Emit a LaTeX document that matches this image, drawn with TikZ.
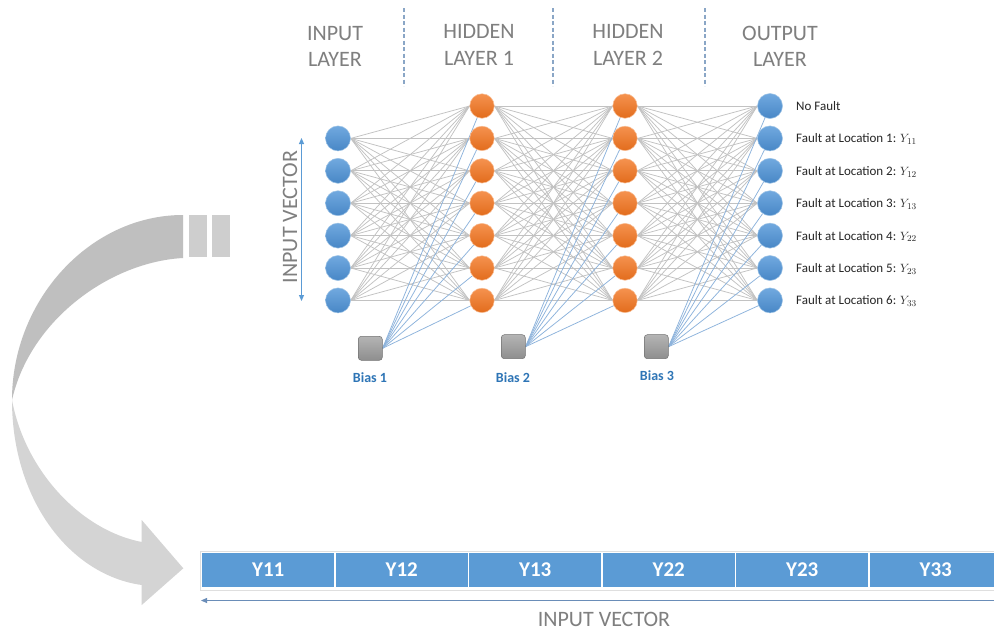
\documentclass[tikz,border=0pt]{standalone}
\usepackage{fontspec}
\setmainfont{Carlito}
\usetikzlibrary{arrows.meta,backgrounds}

\definecolor{nodeblue}{HTML}{5B9BD5}
\definecolor{nodebluetop}{HTML}{71A9DF}
\definecolor{nodebluebot}{HTML}{4887C6}
\definecolor{nodeorangetop}{HTML}{F5924F}
\definecolor{nodeorangebot}{HTML}{E26C1C}
\definecolor{biastop}{HTML}{B4B4B4}
\definecolor{biasbot}{HTML}{8E8E8E}
\definecolor{labelgray}{HTML}{7F7F7F}
\definecolor{biasblue}{HTML}{2E75B6}
\definecolor{wiregray}{HTML}{C2C2C2}
\definecolor{wireblue}{HTML}{8DB3DC}
\definecolor{sepblue}{HTML}{8AA6C6}
\definecolor{arrowdark}{HTML}{BFBFBF}
\definecolor{arrowlight}{HTML}{D4D4D4}
\definecolor{vecline}{HTML}{6A8DB8}

\tikzset{
  neuronin/.style={circle, minimum size=25pt, inner sep=0pt, top color=nodebluetop, bottom color=nodebluebot, draw=nodeblue!60!white, line width=0.5pt},
  neuronhid/.style={circle, minimum size=24.5pt, inner sep=0pt, top color=nodeorangetop, bottom color=nodeorangebot, draw=nodeorangetop!60!white, line width=0.5pt},
  biasbox/.style={rectangle, rounded corners=3pt, minimum size=24pt, inner sep=0pt, top color=biastop, bottom color=biasbot, draw=biasbot!80!black, line width=0.5pt},
  biaslabel/.style={text=biasblue, font=\fontsize{14}{16}\selectfont\bfseries, inner sep=0pt},
  header/.style={text=labelgray, font=\fontsize{22}{26.5}\selectfont, align=center, inner sep=0pt, anchor=north},
  outlabel/.style={text=black!85, font=\fontsize{13}{15}\selectfont, inner sep=0pt, anchor=base west},
  gwire/.style={draw=wiregray, line width=0.75pt},
  bwire/.style={draw=wireblue, line width=0.75pt},
  layersep/.style={draw=sepblue, line width=1.3pt, dash pattern=on 4pt off 2.5pt},
  cell/.style={rectangle, fill=nodeblue, draw=white, line width=1.3pt, minimum width=133.5pt, minimum height=35pt, inner sep=0pt, text=white, font=\fontsize{21}{24}\selectfont\bfseries},
  vecarrow/.style={draw=vecline, line width=0.8pt},
}

\begin{document}
\begin{tikzpicture}[x=1pt, y=-1pt]
\useasboundingbox (0,0) rectangle (994,630);
\clip (0,0) rectangle (994,630);
\begin{scope}[on background layer]
  \fill[white] (0,0) rectangle (994,630);
\end{scope}

% layer headings and dashed separators
\node[header] (hin)  at (335,26)   {INPUT\\LAYER};
\node[header] (hh1)  at (479,24.5) {HIDDEN\\LAYER 1};
\node[header] (hh2)  at (628,24.5) {HIDDEN\\LAYER 2};
\node[header] (hout) at (780,26)   {OUTPUT\\LAYER};
\draw[layersep] (404,8) -- (404,86);
\draw[layersep] (553,8) -- (553,86);
\draw[layersep] (705,8) -- (705,86);

% neurons
\foreach \k in {1,...,7} {
  \pgfmathsetmacro\yy{106+(\k-1)*32.4}
  \node[neuronhid] (ha\k) at (482,\yy) {};
  \node[neuronhid] (hb\k) at (625,\yy) {};
  \node[neuronin]  (out\k) at (770,\yy) {};
}
\foreach \k in {1,...,6} {
  \pgfmathsetmacro\yy{138.4+(\k-1)*32.4}
  \node[neuronin] (in\k) at (338,\yy) {};
}

% bias units
\node[biasbox] (bias1) at (370.3,348.3) {};
\node[biasbox] (bias2) at (513.3,346.7) {};
\node[biasbox] (bias3) at (656.3,346.7) {};
\node[biaslabel] (bl1) at (370,377.5) {Bias 1};
\node[biaslabel] (bl2) at (513,377.5) {Bias 2};
\node[biaslabel] (bl3) at (657,376) {Bias 3};

% weights
\begin{scope}[on background layer]
  \foreach \i in {1,...,6}
    \foreach \j in {1,...,7}
      \draw[gwire] (in\i.east) -- (ha\j.west);
  \foreach \i in {1,...,7}
    \foreach \j in {1,...,7} {
      \draw[gwire] (ha\i.east) -- (hb\j.west);
      \draw[gwire] (hb\i.east) -- (out\j.west);
    }
  \foreach \j in {1,...,7} {
    \draw[bwire] (bias1.east) -- (ha\j);
    \draw[bwire] (bias2.east) -- (hb\j);
    \draw[bwire] (bias3.east) -- (out\j);
  }
\end{scope}

% output classes
\foreach \k/\t in {1/{No Fault},
                   2/{Fault at Location 1: $Y_{11}$},
                   3/{Fault at Location 2: $Y_{12}$},
                   4/{Fault at Location 3: $Y_{13}$},
                   5/{Fault at Location 4: $Y_{22}$},
                   6/{Fault at Location 5: $Y_{23}$},
                   7/{Fault at Location 6: $Y_{33}$}} {
  \pgfmathsetmacro\yy{106+(\k-1)*32.4+4.5}
  \node[outlabel] (lab\k) at (796,\yy) {\t};
}

% input vector marker beside the input layer
\coordinate (ivtop) at (301.5,138);
\coordinate (ivbot) at (301.5,301);
\draw[draw=nodeblue, line width=1pt, {Triangle[length=6pt,width=5pt]}-{Triangle[length=6pt,width=5pt]}, fill=nodeblue] (ivtop) -- (ivbot);
\node[text=labelgray, font=\fontsize{22}{26}\selectfont, rotate=90, inner sep=0pt] (ivtext) at (290,217) {INPUT VECTOR};

% curved arrow
\fill[arrowdark] (183,215) .. controls (90,215) and (12,300) .. (12,400)
  .. controls (30,320) and (110,262) .. (183,258) -- cycle;
\fill[arrowlight] (12,400) .. controls (12,500) and (70,575) .. (141.7,585)
  -- (141.7,605) -- (183.3,568.3) -- (141.7,520) -- (141.7,542)
  .. controls (80,530) and (25,470) .. (12,400) -- cycle;
\fill[arrowlight!97!black] (189,215) rectangle (207,257);
\fill[arrowlight!97!black] (212,215) rectangle (230,257);

% flattened output vector
\draw[gray!25, line width=0.8pt] (200.5,551.5) rectangle (1010,590.5);
\foreach \k/\t in {1/Y11,2/Y12,3/Y13,4/Y22,5/Y23,6/Y33}
  \node[cell] (c\k) at ({201.5+133.5*(\k-0.5)},570) {\t};

\coordinate (vecR) at (994,600.5);
\coordinate (vecL) at (201,600.5);
\draw[vecarrow, -{Triangle[length=6pt,width=5pt]}] (vecR) -- (vecL);
\node[text=labelgray, font=\fontsize{22}{26}\selectfont, inner sep=0pt, anchor=base] (vectext) at (604,626) {INPUT VECTOR};
\end{tikzpicture}
\end{document}
